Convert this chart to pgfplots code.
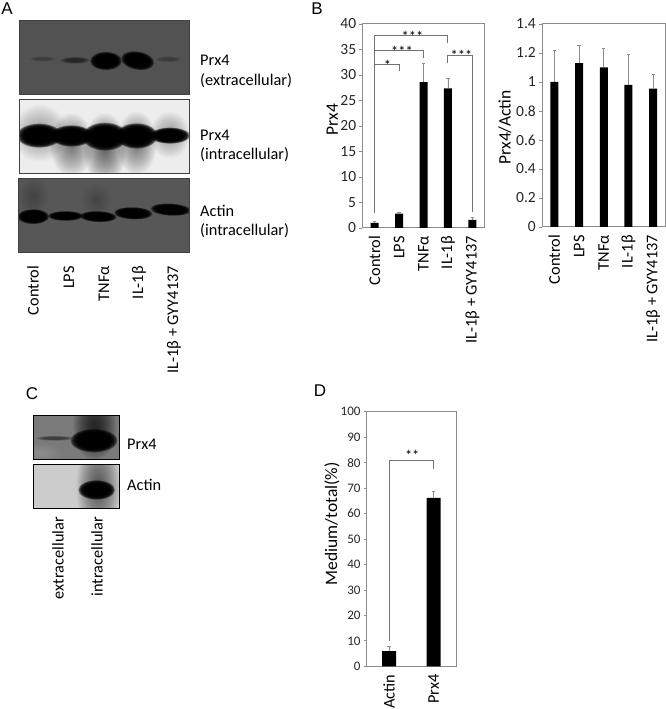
\documentclass[border=0pt]{standalone}
\usepackage{fontspec}
\setmainfont{Carlito}
\newfontfamily\letterfont{Liberation Sans}
\usepackage{pgfplots}
\pgfplotsset{compat=1.18}
\definecolor{ax}{gray}{0.55}
\definecolor{brk}{gray}{0.45}
% \band{x}{y}{w}{h}{colour}{opacity of one layer}{rotation}: nested ellipses give a soft edge
\newcommand{\band}[7]{\foreach \s in {1,0.96,0.92,0.88,0.84,0.8,0.76,0.72,0.68,0.64,0.6,0.56}{\fill[#5,opacity=#6,rotate around={#7:(#1,#2)}] (#1,#2) ellipse [x radius={#3/2*\s},y radius={#4/2*\s}];}}
\newcommand{\soft}[6]{\foreach \s in {1,0.95,0.9,0.85,0.8,0.75,0.7,0.65,0.6,0.55,0.5,0.45,0.4,0.35,0.3,0.25,0.2,0.15}{\fill[#5,opacity=#6] (#1,#2) ellipse [x radius={#3/2*\s},y radius={#4/2*\s}];}}
\pgfplotsset{panel/.style={
  scale only axis, axis line style={ax,line width=1pt},
  xtick=data, xmin=0.5, xtick style={draw=none},
  ytick pos=left, ytick align=outside, major tick length=3pt,
  ytick style={ax,line width=0.8pt},
  /pgf/number format/assume math mode=true,
  /pgf/number format/fixed,
  x tick label style={rotate=90,anchor=east,font=\fontsize{16.3}{17}\selectfont,inner sep=8pt},
  y tick label style={font=\fontsize{15.5}{16}\selectfont,inner sep=3pt,text=black!85},
  label style={font=\fontsize{17.5}{18}\selectfont},
  ymin=0,clip=false},
  barp/.style={ybar,bar shift=0pt,fill=black,draw=none,
   error bars/.cd,y dir=plus,y explicit,
   error bar style={black!45,line width=0.8pt},
   error mark options={rotate=90,mark size=1.6pt,black!45,line width=0.7pt}},
  brack/.style={brk,line width=1pt,no marks,sharp plot}
}
\begin{document}
\begin{tikzpicture}
\useasboundingbox (0,0) rectangle (666pt,709pt);
% ---------- panel B left
\begin{axis}[panel,at={(362.3pt,481pt)},anchor=south west,width=122.4pt,height=204pt,
  xmax=5.5,ymax=40,ytick={0,5,...,40},
  xticklabels={Control,LPS,TNFα,IL-1β,IL-1β + GYY4137},
  ylabel={Prx4},ylabel style={at={(axis description cs:-0.245,0.53)},anchor=center}]
\addplot[bar width=8pt,barp] table[x=x,y=y,y error=e] {
x y e
1 1.0 0.3
2 2.8 0.2
3 28.6 3.6
4 27.4 1.9
5 1.6 0.4
};
\addplot[brack] coordinates {(1,3) (1,37.8) (4,37.8) (4,36.3)};
\addplot[brack] coordinates {(1,33) (1,34.9) (3,34.9) (3,33.3)};
\addplot[brack] coordinates {(1,30) (1,32) (2,32) (2,30.7)};
\addplot[brack] coordinates {(4,32.3) (4,33.9) (5,33.9) (5,3.2)};
\node[font=\fontsize{14.5}{15}\selectfont] at (axis cs:2.55,37.6) {***};
\node[font=\fontsize{14.5}{15}\selectfont] at (axis cs:2.12,34.7) {***};
\node[font=\fontsize{14.5}{15}\selectfont] at (axis cs:1.53,31.8) {*};
\node[font=\fontsize{14.5}{15}\selectfont] at (axis cs:4.55,33.8) {***};
\end{axis}
% ---------- panel B right
\begin{axis}[panel,at={(542pt,482pt)},anchor=south west,width=123.5pt,height=203pt,
  xmax=5.5,ymax=1.4,ytick={0,0.2,0.4,0.6,0.8,1,1.2,1.4},
  xticklabels={Control,LPS,TNFα,IL-1β,IL-1β + GYY4137},
  ylabel={Prx4/Actin},ylabel style={at={(axis description cs:-0.30,0.49)},anchor=center}]
\addplot[bar width=8pt,barp] table[x=x,y=y,y error=e] {
x y e
1 1.0 0.22
2 1.13 0.12
3 1.10 0.135
4 0.98 0.21
5 0.955 0.10
};
\end{axis}
% ---------- panel D
\begin{axis}[panel,at={(366.7pt,42.7pt)},anchor=south west,width=89.3pt,height=254.6pt,
  xmax=2.5,ymax=100,ytick={0,10,...,100},
  y tick label style={font=\fontsize{13}{14}\selectfont},
  x tick label style={font=\fontsize{16.3}{17}\selectfont},
  xticklabels={Actin,Prx4},
  ylabel={Medium/total(\%)},ylabel style={at={(axis description cs:-0.39,0.56)},anchor=center}]
\addplot[bar width=14pt,barp] table[x=x,y=y,y error=e] {
x y e
1 6 1.8
2 66.2 2.5
};
\addplot[brack] coordinates {(1,10) (1,81) (2,81) (2,77.6)};
\node[font=\fontsize{14.5}{15}\selectfont] at (axis cs:1.52,83) {**};
\end{axis}
% ---------- all else: px coordinates from the top-left
\begin{scope}[x=1pt,y=-1pt,yshift=709pt]
\node[font=\letterfont\fontsize{17}{18}\selectfont,anchor=center] at (7,9) {A};
\node[font=\letterfont\fontsize{17}{18}\selectfont,anchor=center] at (317,9) {B};
\node[font=\letterfont\fontsize{17}{18}\selectfont,anchor=center] at (32,394) {C};
\node[font=\letterfont\fontsize{17}{18}\selectfont,anchor=center] at (320,391) {D};
\begin{scope}[font=\fontsize{16.3}{17}\selectfont]
\node[anchor=west,inner sep=0] at (200,60) {Prx4};
\node[anchor=west,inner sep=0] at (200,81) {(extracellular)};
\node[anchor=west,inner sep=0] at (200,135) {Prx4};
\node[anchor=west,inner sep=0] at (200,155) {(intracellular)};
\node[anchor=west,inner sep=0] at (200,211) {Actin};
\node[anchor=west,inner sep=0] at (200,231) {(intracellular)};
\node[anchor=west,inner sep=0] at (127,444) {Prx4};
\node[anchor=west,inner sep=0] at (127,485) {Actin};
\foreach \x/\t in {33/Control,69/LPS,104/TNFα,139/IL-1β,174/IL-1β + GYY4137}
  \node[rotate=90,anchor=east,inner sep=0] at (\x,266) {\t};
\node[rotate=90,anchor=east,inner sep=0] at (58,517) {extracellular};
\node[rotate=90,anchor=east,inner sep=0] at (97,517) {intracellular};
\end{scope}
\end{scope}
% blots in 3x zoomed pixel coordinates
\begin{scope}[x=0.3333pt,y=-0.3333pt,yshift=709pt]
% A1
\begin{scope}
\clip (58,63) rectangle (568,285);
\fill[black!68] (58,63) rectangle (568,285);
\soft{335}{100}{100}{150}{white}{0.004}
\soft{400}{100}{60}{130}{white}{0.003}
\band{128}{177}{80}{14}{black}{0.015}{0}
\band{225}{181}{90}{20}{black}{0.05}{0}
\band{505}{178}{80}{16}{black}{0.02}{0}
\band{318}{183}{95}{54}{black}{0.35}{0}
\band{413}{182}{100}{54}{black}{0.35}{-10}
\end{scope}
\draw[black!75,line width=1pt] (58,63) rectangle (568,285);
% A2
\begin{scope}
\clip (58,298) rectangle (568,521);
\fill[black!7] (58,298) rectangle (568,521);
\soft{120}{400}{170}{170}{black}{0.018}
\soft{215}{435}{130}{190}{black}{0.03}
\soft{315}{445}{130}{210}{black}{0.04}
\soft{410}{430}{120}{190}{black}{0.03}
\soft{510}{405}{120}{140}{black}{0.018}
\band{118}{407}{135}{72}{black}{0.35}{0}
\band{215}{408}{125}{64}{black}{0.35}{0}
\band{315}{410}{135}{84}{black}{0.35}{0}
\band{410}{408}{125}{76}{black}{0.35}{0}
\band{510}{407}{120}{48}{black}{0.35}{0}
\end{scope}
\draw[black!75,line width=1pt] (58,298) rectangle (568,521);
% A3
\begin{scope}
\clip (56,537) rectangle (568,757);
\fill[black!66] (56,537) rectangle (568,757);
\soft{100}{590}{90}{110}{black}{0.01}
\soft{290}{600}{90}{100}{black}{0.007}
\band{100}{650}{95}{44}{black}{0.35}{0}
\band{197}{648}{105}{28}{black}{0.35}{0}
\band{295}{650}{110}{32}{black}{0.35}{-2}
\band{400}{640}{115}{36}{black}{0.35}{-2}
\band{512}{629}{120}{36}{black}{0.35}{-3}
\end{scope}
\draw[black!75,line width=1pt] (56,537) rectangle (568,757);
\end{scope}
% panel C blots: 3x zoom offset by 370px
\begin{scope}[x=0.3333pt,y=-0.3333pt,yshift=339pt]
% C1
\begin{scope}
\clip (101,136) rectangle (359,270);
\fill[black!52] (101,136) rectangle (359,270);
\soft{120}{250}{140}{60}{white}{0.012}
\soft{285}{170}{130}{200}{black}{0.055}
\band{165}{205}{115}{14}{black}{0.05}{0}
\band{282}{212}{140}{70}{black}{0.35}{0}
\end{scope}
\draw[black,line width=1pt] (101,136) rectangle (359,270);
% C2
\begin{scope}
\clip (101,283) rectangle (359,415);
\fill[black!20] (101,283) rectangle (359,415);
\soft{295}{350}{130}{280}{black}{0.04}
\band{290}{360}{110}{58}{black}{0.35}{0}
\end{scope}
\draw[black,line width=1pt] (101,283) rectangle (359,415);
\end{scope}
\end{tikzpicture}
\end{document}
